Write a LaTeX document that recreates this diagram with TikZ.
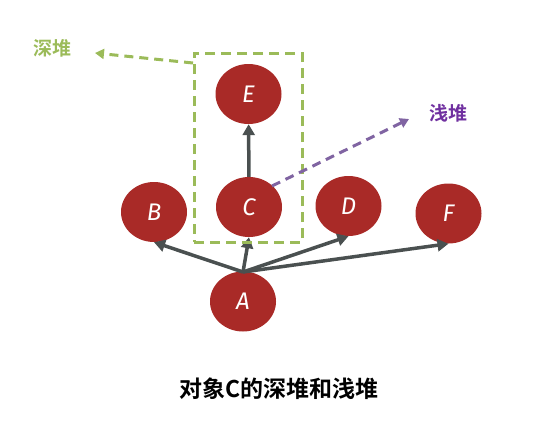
\documentclass[tikz,border=0pt]{standalone}
\usepackage{fontspec}
\setsansfont{Fira Sans}
\newfontfamily\cjkb{Noto Sans CJK SC Bold}
\usetikzlibrary{arrows.meta,shapes.geometric}
\definecolor{nodered}{HTML}{A92A27}
\definecolor{arrowgray}{HTML}{4A5050}
\definecolor{boxgreen}{HTML}{9BBB59}
\definecolor{lblpurple}{HTML}{7030A0}
\definecolor{linepurple}{HTML}{8064A2}
\begin{document}
\begin{tikzpicture}[x=1pt,y=-1pt,
  obj/.style={ellipse,fill=nodered,minimum width=66pt,minimum height=60pt,inner sep=0pt,
    text=white,font=\sffamily\itshape\fontsize{24}{24}\selectfont},
  ref/.style={draw=arrowgray,line width=3.5pt,-{Triangle[length=11pt,width=12pt]}},
  deeparrow/.style={draw=boxgreen,line width=3pt,dash pattern=on 9pt off 6pt,-{Triangle[length=9pt,width=10pt]}},
  shallowarrow/.style={draw=linepurple,line width=3pt,dash pattern=on 9pt off 6pt,-{Triangle[length=9pt,width=10pt]}},
  lbl/.style={font=\cjkb\fontsize{19}{19}\selectfont}]
\useasboundingbox (0,0) rectangle (547,424);
\node[obj] (E) at (248.5,94) {E};
\node[obj] (C) at (249,207) {C};
\node[obj] (B) at (154,212) {B};
\node[obj] (D) at (348.5,206) {D};
\node[obj] (F) at (448.5,213.5) {F};
\node[obj] (A) at (243,301.5) {A};
\coordinate (src) at (243,272);
\draw[ref] (src) -- (B.south);
\draw[ref] (src) -- (C.south);
\draw[ref] (src) -- (D.south);
\draw[ref] (src) -- (F.south);
\draw[ref] (C) -- (E);
\node[draw=boxgreen,line width=3pt,dash pattern=on 10pt off 6pt,minimum width=108pt,minimum height=189pt,inner sep=0pt] (box) at (248,147.5) {};
\node[lbl,text=boxgreen] (deep) at (53,48) {深堆};
\node[lbl,text=lblpurple] (shallow) at (448,113) {浅堆};
\coordinate (deepstart) at (193,63);
\coordinate (deepend) at (95,53);
\draw[deeparrow] (deepstart) -- (deepend);
\coordinate (shstart) at (272,186);
\coordinate (shend) at (409,119);
\draw[shallowarrow] (shstart) -- (shend);
\node[font=\cjkb\fontsize{23}{23}\selectfont] (cap) at (279,389) {对象C的深堆和浅堆};
\end{tikzpicture}
\end{document}
